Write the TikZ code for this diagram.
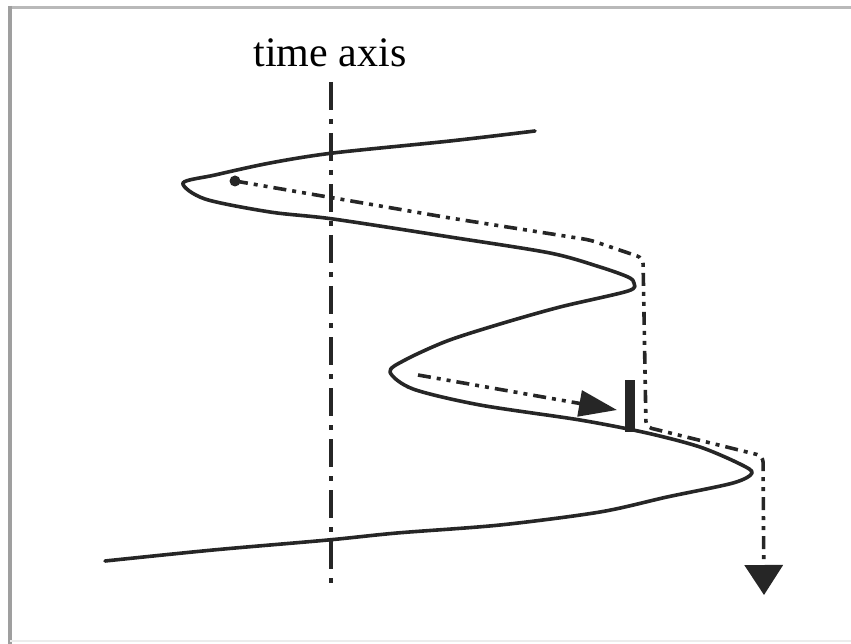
\documentclass[tikz,border=0pt]{standalone}
\usepackage{fontspec}
\setmainfont{Liberation Serif}
\usetikzlibrary{arrows.meta}
\definecolor{inkdark}{HTML}{262626}

\begin{document}
\begin{tikzpicture}[x=1pt,y=-1pt,
        curve/.style={draw=inkdark,line width=3.6pt,line join=round,line cap=round},
        axisline/.style={draw=inkdark,line width=3.4pt,dash pattern=on 28pt off 9pt on 5pt off 9pt},
        flow/.style={draw=inkdark,line width=3.6pt,rounded corners=6pt,
          dash pattern=on 13pt off 6pt on 4pt off 6pt on 4pt off 6pt},
        bigtip/.style={-{Triangle[length=30pt,width=38pt]}},
        sidetip/.style={-{Triangle[length=38pt,width=26pt]}}]
        \useasboundingbox (0,0) rectangle (851,644);
        % frame
        \draw[gray!55,line width=3pt] (10,8) -- (851,8);
        \draw[gray!75,line width=4pt] (10,6) -- (10,644);
        \draw[gray!15,line width=2pt] (10,641) -- (851,641);
        % label and time axis
        \node[font=\fontsize{42}{44}\selectfont,inner sep=0pt] (lbl) at (330,53) {time axis};
        \coordinate (axtop) at (331,82);
        \coordinate (axbot) at (331,588);
        \draw[axisline] (axtop) -- (axbot);
        % the curve
        \draw[curve] plot[smooth,tension=0.5] coordinates {
          (535,131) (450,141) (333,153) (270,163) (215,175) (183,183)
          (205,199) (270,212) (333,219) (450,237) (550,253) (600,267) (628,277) (634,283)
          (628,291) (560,307) (500,324) (447,341) (405,360) (390,372)
          (413,389) (480,405) (580,420) (647,433) (700,447) (740,464) (752,473)
          (733,483) (667,497) (600,512) (500,525) (397,533) (328,540) (213,550) (105,561)};
        % first path
        \coordinate (start) at (235,181);
        \coordinate (c1) at (643,258);
        \coordinate (c2) at (646,427);
        \coordinate (c3) at (763,456);
        \coordinate (stop) at (764,595);
        \fill[inkdark] (start) circle (5.5pt);
        \draw[flow,bigtip] (start) -- (450,218) -- (590,240) -- (c1) -- (c2) -- (c3) -- (stop);
        % second path
        \coordinate (s2) at (418,375);
        \coordinate (e2) at (617,410);
        \draw[flow,sidetip] (s2) -- (e2);
        \coordinate (bartop) at (630,380);
        \coordinate (barbot) at (630,432);
        \draw[inkdark,line width=10pt] (bartop) -- (barbot);
\end{tikzpicture}
\end{document}
